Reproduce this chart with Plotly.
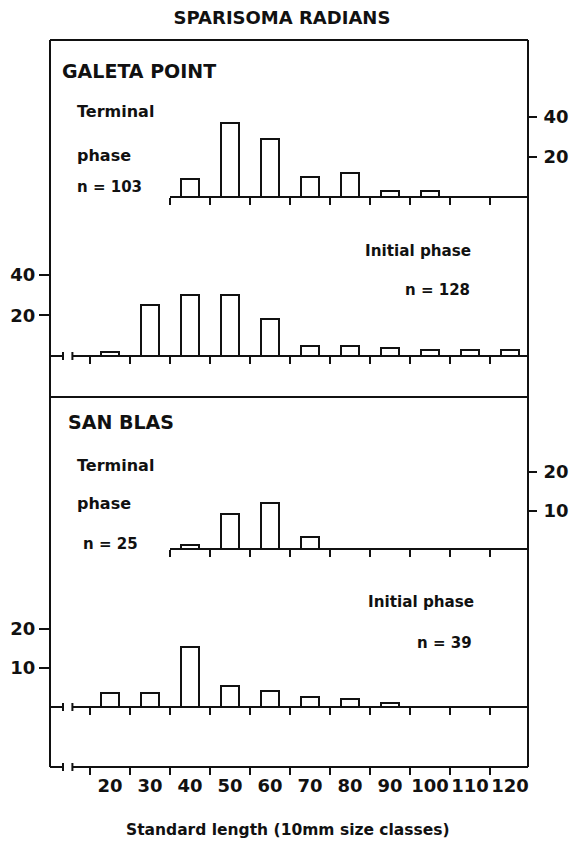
import plotly.graph_objects as go

# ---------------- data ----------------
classes = [20, 30, 40, 50, 60, 70, 80, 90, 100, 110, 120]
tick_labels = ["20", "30", "40", "50", "60", "70", "80", "90", "100", "110", "120"]
class_bounds = [15, 25, 35, 45, 55, 65, 75, 85, 95, 105, 115]
terminal_bounds = [35, 45, 55, 65, 75, 85, 95, 105, 115]

galeta_terminal_classes = [40, 50, 60, 70, 80, 90, 100]
galeta_terminal = [9, 37, 29, 10, 12, 3, 3]          # n = 103

galeta_initial_classes = [20, 30, 40, 50, 60, 70, 80, 90, 100, 110, 120]
galeta_initial = [2, 25, 30, 30, 18, 5, 5, 4, 3, 3, 3]  # n = 128

sanblas_terminal_classes = [40, 50, 60, 70]
sanblas_terminal = [1, 9, 12, 3]                     # n = 25

sanblas_initial_classes = [20, 30, 40, 50, 60, 70, 80, 90]
sanblas_initial = [3.5, 3.5, 15.5, 5.5, 4, 2.5, 2, 1]  # n = 39

galeta_terminal_ticks = [20, 40]
galeta_initial_ticks = [20, 40]
sanblas_terminal_ticks = [10, 20]
sanblas_initial_ticks = [10, 20]

# ---------------- geometry ----------------
FIG_W, FIG_H = 570, 855
L, R, T, B = 50, 528, 40, 767
W, H = R - L, B - T
X_LO = 5
X_HI = X_LO + W / 4.0


def px(x):
    return (x - L) / W


def py(y):
    return (B - y) / H


FONT = "DejaVu Sans"
BLACK = "#111111"

fig = go.Figure()

bar_style = dict(marker=dict(color="white", line=dict(color=BLACK, width=2)),
                 width=4.3, showlegend=False, hoverinfo="x+y")

fig.add_trace(go.Bar(x=galeta_terminal_classes, y=galeta_terminal, xaxis="x", yaxis="y", **bar_style))
fig.add_trace(go.Bar(x=galeta_initial_classes, y=galeta_initial, xaxis="x2", yaxis="y2", **bar_style))
fig.add_trace(go.Bar(x=sanblas_terminal_classes, y=sanblas_terminal, xaxis="x3", yaxis="y3", **bar_style))
fig.add_trace(go.Bar(x=sanblas_initial_classes, y=sanblas_initial, xaxis="x4", yaxis="y4", **bar_style))

tickfont = dict(family=FONT, size=18, color=BLACK, weight="bold")

common_x = dict(showgrid=False, zeroline=False, showline=False, ticks="outside",
                ticklen=7, tickwidth=2, tickcolor=BLACK, showticklabels=False,
                tickmode="array", fixedrange=True, automargin=False)
common_y = dict(showgrid=False, zeroline=False, showline=False, ticks="outside",
                tickwidth=2, tickcolor=BLACK, tickfont=tickfont, tickangle=0,
                tickmode="array", fixedrange=True, automargin=False)

d_gt = [py(197), 1.0]
d_gi = [py(356), py(197)]
d_st = [py(549), py(397)]
d_si = [py(707), py(549)]
d_bt = [0.0, py(707)]

term_x0 = px(170)

fig.update_layout(
    xaxis=dict(domain=[term_x0, 1], range=[35, X_HI], anchor="y", tickvals=terminal_bounds, **common_x),
    yaxis=dict(domain=d_gt, range=[0, (197 - 40) / 2.0], anchor="x", side="right",
               tickvals=galeta_terminal_ticks, ticklen=8, ticklabelstandoff=3, **common_y),
    xaxis2=dict(domain=[0, 1], range=[X_LO, X_HI], anchor="y2", tickvals=class_bounds, **common_x),
    yaxis2=dict(domain=d_gi, range=[0, (356 - 197) / 2.03], anchor="x2", side="left",
                tickvals=galeta_initial_ticks, ticklen=10, **common_y),
    xaxis3=dict(domain=[term_x0, 1], range=[35, X_HI], anchor="y3", tickvals=terminal_bounds, **common_x),
    yaxis3=dict(domain=d_st, range=[0, (549 - 397) / 3.85], anchor="x3", side="right",
                tickvals=sanblas_terminal_ticks, ticklen=8, ticklabelstandoff=3, **common_y),
    xaxis4=dict(domain=[0, 1], range=[X_LO, X_HI], anchor="y4", tickvals=class_bounds, **common_x),
    yaxis4=dict(domain=d_si, range=[0, (707 - 549) / 3.9], anchor="x4", side="left",
                tickvals=sanblas_initial_ticks, ticklen=10, **common_y),
    xaxis5=dict(domain=[0, 1], range=[X_LO, X_HI], anchor="y5", showgrid=False, zeroline=False,
                showline=False, tickmode="array", tickvals=classes, ticktext=tick_labels,
                ticks="outside", ticklen=2, tickcolor="rgba(0,0,0,0)", tickfont=tickfont,
                tickangle=0, automargin=False,
                minor=dict(tickmode="array", tickvals=class_bounds, ticks="outside",
                           ticklen=7, tickwidth=2, tickcolor=BLACK, showgrid=False),
                fixedrange=True),
    yaxis5=dict(domain=d_bt, range=[0, 1], anchor="x5", visible=False, fixedrange=True,
                automargin=False),
)

shapes = []
line_style = dict(color=BLACK, width=2)

# outer frame and divider
shapes.append(dict(type="line", xref="paper", yref="paper", x0=0, x1=0, y0=0, y1=1, line=line_style))
shapes.append(dict(type="line", xref="paper", yref="paper", x0=1, x1=1, y0=0, y1=1, line=line_style))
shapes.append(dict(type="line", xref="paper", yref="paper", x0=0, x1=1, y0=1, y1=1, line=line_style))
shapes.append(dict(type="line", xref="paper", yref="paper", x0=0, x1=1, y0=py(397), y1=py(397), line=line_style))

# baselines of the terminal-phase panels
for xr, yr in [("x", "y"), ("x3", "y3")]:
    shapes.append(dict(type="line", xref=xr, yref=yr + " domain", x0=35, x1=X_HI, y0=0, y1=0, line=line_style))

# baselines with axis breaks
BRK_A, BRK_B = 8.25, 10.6
for xr, yr in [("x2", "y2"), ("x4", "y4"), ("x5", "y5")]:
    shapes.append(dict(type="line", xref=xr, yref=yr + " domain", x0=X_LO, x1=BRK_A, y0=0, y1=0, line=line_style))
    shapes.append(dict(type="line", xref=xr, yref=yr + " domain", x0=BRK_B, x1=X_HI, y0=0, y1=0, line=line_style))
    for xb in (BRK_A, BRK_B):
        shapes.append(dict(type="line", xref=xr, yref=yr + " domain", ysizemode="pixel", yanchor=0,
                           x0=xb, x1=xb, y0=-4, y1=4, line=line_style))

annotations = []


def label(text, x, y, size=16, anchor="left"):
    if anchor == "left":
        x -= 2
    annotations.append(dict(text=text, x=px(x), y=py(y), xref="paper", yref="paper",
                            xanchor=anchor, yanchor="middle", showarrow=False,
                            font=dict(family=FONT, size=size, color=BLACK, weight="bold")))


label("GALETA POINT", 62, 71, size=19)
label("Terminal", 77, 112)
label("phase", 77, 155)
label("n = 103", 77, 187, size=15)
label("Initial phase", 365, 251, size=15.2)
label("n = 128", 405, 290, size=15)

label("SAN BLAS", 68, 422, size=19)
label("Terminal", 77, 466)
label("phase", 77, 504)
label("n = 25", 83, 544, size=15)
label("Initial phase", 368, 602, size=15.2)
label("n = 39", 417, 643, size=15)

label("Standard length (10mm size classes)", 288, 830, size=15.5, anchor="center")

fig.update_layout(
    width=FIG_W, height=FIG_H,
    margin=dict(l=L, r=FIG_W - R, t=T, b=FIG_H - B, pad=0, autoexpand=False),
    paper_bgcolor="white", plot_bgcolor="rgba(0,0,0,0)",
    showlegend=False, bargap=0,
    title=dict(text="SPARISOMA RADIANS", x=282 / FIG_W, xanchor="center", xref="container",
               y=1 - 18 / FIG_H, yanchor="middle", yref="container", automargin=False,
               font=dict(family=FONT, size=18, color=BLACK, weight="bold")),
    font=dict(family=FONT, color=BLACK),
    shapes=shapes, annotations=annotations,
)

fig.write_html("out.html", config={"displayModeBar": False},
               post_script="document.body.style.margin='0';document.body.style.padding='0';")
